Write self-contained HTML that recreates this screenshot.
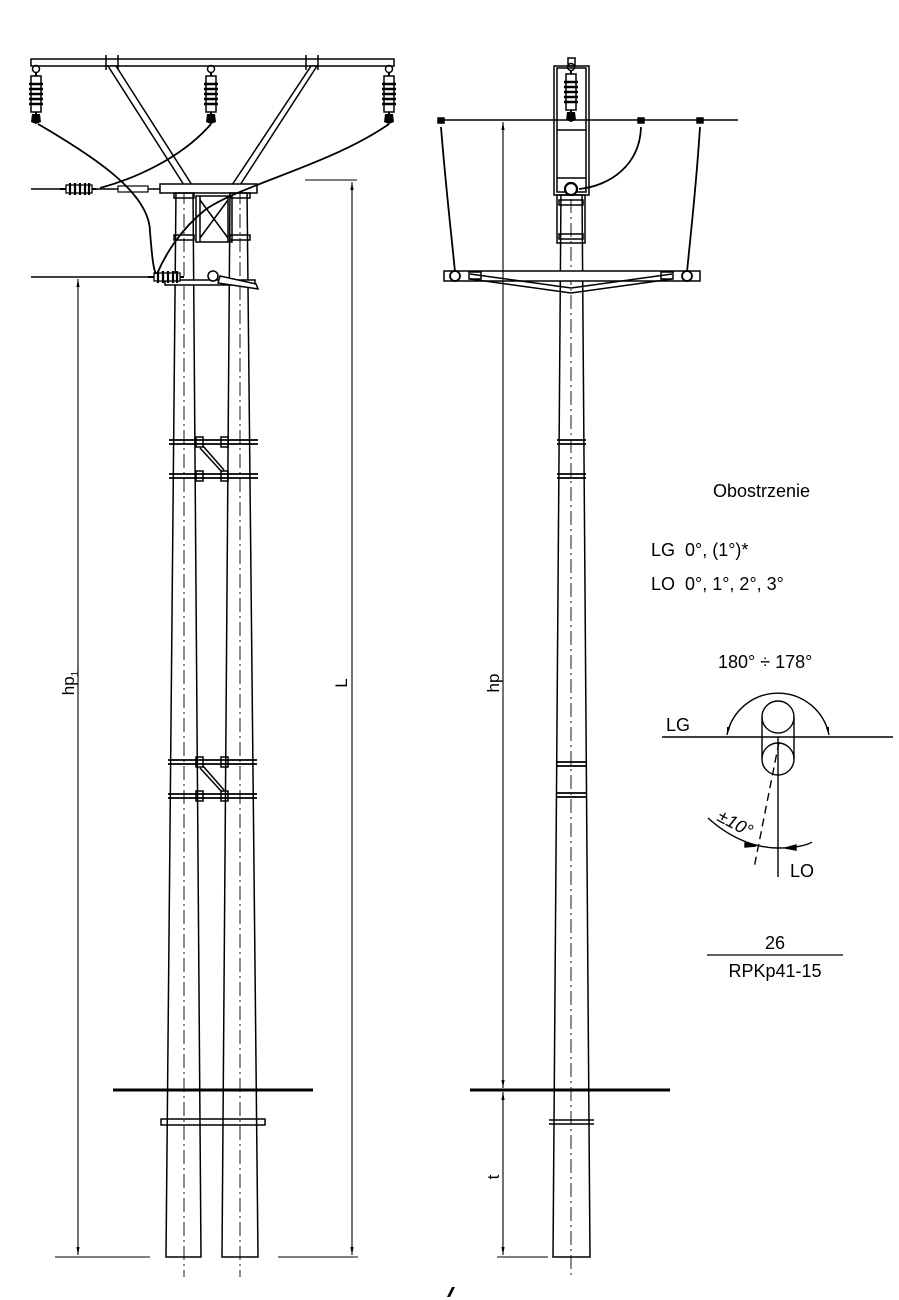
<!DOCTYPE html>
<html><head><meta charset="utf-8"><style>
html,body{margin:0;padding:0;background:#fff}
svg{display:block}
text{font-family:"Liberation Sans",Arial,sans-serif;fill:#000}
</style></head><body>
<svg width="899" height="1300" viewBox="0 0 899 1300" xmlns="http://www.w3.org/2000/svg">
<defs>
<marker id="ar" viewBox="0 0 10 10" refX="10" refY="5" markerWidth="8" markerHeight="10" orient="auto-start-reverse" markerUnits="userSpaceOnUse"><path d="M0,3 L10,5 L0,7 z" fill="#000"/></marker>
<g id="ins">
<circle cx="0" cy="3" r="3.5" fill="none" stroke="#000" stroke-width="1.5"/>
<line x1="0" y1="6" x2="0" y2="56" stroke="#000" stroke-width="2"/>
<rect x="-5" y="10" width="10" height="36" fill="#fff" stroke="#000" stroke-width="1.5"/>
<line x1="-7" y1="18" x2="7" y2="18" stroke="#000" stroke-width="2.5"/>
<line x1="-7" y1="23" x2="7" y2="23" stroke="#000" stroke-width="2.5"/>
<line x1="-7" y1="28" x2="7" y2="28" stroke="#000" stroke-width="2.5"/>
<line x1="-7" y1="33" x2="7" y2="33" stroke="#000" stroke-width="2.5"/>
<line x1="-7" y1="38" x2="7" y2="38" stroke="#000" stroke-width="2.5"/>
<path d="M-4,48 L4,48 L5,56 L0,58 L-5,56 z" fill="#000"/>
</g>
<g id="hins">
<line x1="0" y1="0" x2="36" y2="0" stroke="#000" stroke-width="2"/>
<rect x="6" y="-4" width="26" height="8" fill="#fff" stroke="#000" stroke-width="1.3"/>
<line x1="10" y1="-6" x2="10" y2="6" stroke="#000" stroke-width="2.2"/>
<line x1="15" y1="-6" x2="15" y2="6" stroke="#000" stroke-width="2.2"/>
<line x1="20" y1="-6" x2="20" y2="6" stroke="#000" stroke-width="2.2"/>
<line x1="25" y1="-6" x2="25" y2="6" stroke="#000" stroke-width="2.2"/>
<line x1="29" y1="-6" x2="29" y2="6" stroke="#000" stroke-width="2.2"/>
</g>
</defs>
<g stroke="#000" fill="none" stroke-width="1.5">
<polygon points="176,190 193,190 201,1257 166,1257"/>
<polygon points="230,190 247,190 258,1257 222,1257"/>
<line x1="184" y1="190" x2="184" y2="1277" stroke-dasharray="14,4,2,4" stroke-width="0.9"/>
<line x1="240" y1="190" x2="240" y2="1277" stroke-dasharray="14,4,2,4" stroke-width="0.9"/>
<rect x="31" y="59" width="363" height="7"/>
<line x1="106" y1="55" x2="106" y2="70"/><line x1="118" y1="55" x2="118" y2="70"/>
<line x1="306" y1="55" x2="306" y2="70"/><line x1="318" y1="55" x2="318" y2="70"/>
<polygon points="108,66 116,66 192,185 184,185" fill="#fff"/>
<polygon points="311,66 317,66 240,185 232,185" fill="#fff"/>
<rect x="160" y="184" width="97" height="9" fill="#fff"/>
<rect x="174" y="193" width="20" height="5"/><rect x="230" y="193" width="20" height="5"/>
<rect x="174" y="235" width="20" height="5"/><rect x="230" y="235" width="20" height="5"/>
<rect x="196" y="196" width="36" height="46"/>
<line x1="200" y1="196" x2="200" y2="242"/><line x1="228" y1="196" x2="228" y2="242"/>
<line x1="200" y1="200" x2="228" y2="238"/><line x1="228" y1="200" x2="200" y2="238"/>
<rect x="165" y="280" width="90" height="5" fill="#fff"/>
<path d="M218,283 L258,289 L256,284 L220,276 z" fill="#fff"/>
<circle cx="213" cy="276" r="5" fill="#fff"/>
<g stroke-width="1.8">
<line x1="169" y1="440" x2="258" y2="440"/><line x1="169" y1="444" x2="258" y2="444"/>
<line x1="169" y1="474" x2="258" y2="474"/><line x1="169" y1="478" x2="258" y2="478"/>
<line x1="168" y1="760" x2="257" y2="760"/><line x1="168" y1="764" x2="257" y2="764"/>
<line x1="168" y1="794" x2="257" y2="794"/><line x1="168" y1="798" x2="257" y2="798"/>
</g>
<rect x="196" y="437" width="7" height="10"/><rect x="221" y="437" width="7" height="10"/>
<rect x="196" y="471" width="7" height="10"/><rect x="221" y="471" width="7" height="10"/>
<line x1="200" y1="448" x2="222" y2="472"/><line x1="203" y1="446" x2="224" y2="470"/>
<rect x="196" y="757" width="7" height="10"/><rect x="221" y="757" width="7" height="10"/>
<rect x="196" y="791" width="7" height="10"/><rect x="221" y="791" width="7" height="10"/>
<line x1="200" y1="768" x2="222" y2="792"/><line x1="203" y1="766" x2="224" y2="790"/>
<rect x="161" y="1119" width="104" height="6"/>
</g>
<use href="#ins" x="36" y="66"/><use href="#ins" x="211" y="66"/><use href="#ins" x="389" y="66"/>
<g stroke="#000" fill="none">
<line x1="31" y1="189" x2="160" y2="189" stroke-width="1.5"/>
<use href="#hins" x="60" y="189"/>
<rect x="118" y="186" width="30" height="6" fill="#fff" stroke-width="1.2"/>
<line x1="31" y1="277" x2="160" y2="277" stroke-width="1.5"/>
<use href="#hins" x="148" y="277"/>
<path d="M38,124 C100,160 150,195 150,232 C152,255 153,268 156,274" stroke-width="1.8"/>
<path d="M211,124 C180,160 130,180 100,188" stroke-width="1.8"/>
<path d="M389,124 C330,165 240,185 205,210 C180,230 165,255 157,274" stroke-width="1.8"/>
</g>
<g stroke="#000" stroke-width="1.1" fill="none">
<line x1="78" y1="279" x2="78" y2="1255" marker-start="url(#ar)" marker-end="url(#ar)"/>
<line x1="352" y1="182" x2="352" y2="1255" marker-start="url(#ar)" marker-end="url(#ar)"/>
<line x1="305" y1="180" x2="357" y2="180"/>
<line x1="55" y1="1257" x2="150" y2="1257"/>
<line x1="278" y1="1257" x2="358" y2="1257"/>
<line x1="113" y1="1090" x2="313" y2="1090" stroke-width="3"/>
</g>
<text transform="translate(74,683) rotate(-90)" font-size="17" text-anchor="middle">hp<tspan font-size="10" dy="4">1</tspan></text>
<text transform="translate(347,683) rotate(-90)" font-size="17" text-anchor="middle">L</text>

<g stroke="#000" fill="none" stroke-width="1.5">
<polygon points="561,190 582,190 590,1257 553,1257"/>
<line x1="571" y1="175" x2="571" y2="1277" stroke-dasharray="14,4,2,4" stroke-width="0.9"/>
<rect x="554" y="66" width="35" height="129" fill="#fff"/>
<rect x="557" y="68" width="29" height="124"/>
<rect x="568" y="58" width="7" height="8"/>
<line x1="557" y1="130" x2="586" y2="130"/>
<line x1="557" y1="178" x2="586" y2="178"/>
<rect x="557" y="195" width="28" height="48"/>
<rect x="559" y="200" width="24" height="5"/><rect x="559" y="234" width="24" height="5"/>
<circle cx="571" cy="189" r="6" stroke-width="2.2" fill="#fff"/>
<line x1="438" y1="120" x2="738" y2="120" stroke-width="1.6"/>
<path d="M641,127 C640,165 610,186 579,189" stroke-width="1.8"/>
<path d="M441,127 C446,190 452,240 455,272" stroke-width="1.8"/>
<path d="M700,127 C696,190 690,240 687,272" stroke-width="1.8"/>
<rect x="438" y="118" width="6" height="5" fill="#000"/>
<rect x="638" y="118" width="6" height="5" fill="#000"/>
<rect x="697" y="118" width="6" height="5" fill="#000"/>
<rect x="444" y="271" width="256" height="10" fill="#fff"/>
<path d="M470,274 L571,288 L672,274"/>
<path d="M470,279 L571,293 L672,279"/>
<circle cx="455" cy="276" r="5" stroke-width="1.8"/><circle cx="687" cy="276" r="5" stroke-width="1.8"/>
<rect x="469" y="272" width="12" height="7"/><rect x="661" y="272" width="12" height="7"/>
<g stroke-width="1.8">
<line x1="557" y1="440" x2="586" y2="440"/><line x1="557" y1="444" x2="586" y2="444"/>
<line x1="557" y1="474" x2="586" y2="474"/><line x1="557" y1="478" x2="586" y2="478"/>
<line x1="556" y1="762" x2="587" y2="762"/><line x1="556" y1="766" x2="587" y2="766"/>
<line x1="556" y1="793" x2="587" y2="793"/><line x1="556" y1="797" x2="587" y2="797"/>
</g>
<line x1="549" y1="1120" x2="594" y2="1120"/><line x1="549" y1="1124" x2="594" y2="1124"/>
</g>
<use href="#ins" x="571" y="64"/>
<g stroke="#000" stroke-width="1.1" fill="none">
<line x1="503" y1="122" x2="503" y2="1088" marker-start="url(#ar)" marker-end="url(#ar)"/>
<line x1="503" y1="1092" x2="503" y2="1255" marker-start="url(#ar)" marker-end="url(#ar)"/>
<line x1="497" y1="1257" x2="548" y2="1257"/>
<line x1="470" y1="1090" x2="670" y2="1090" stroke-width="3"/>
</g>
<text transform="translate(499,683) rotate(-90)" font-size="17" text-anchor="middle">hp</text>
<text transform="translate(499,1177) rotate(-90)" font-size="17" text-anchor="middle">t</text>

<text x="713" y="497" font-size="18">Obostrzenie</text>
<text x="651" y="556" font-size="18" xml:space="preserve">LG  0°, (1°)*</text>
<text x="651" y="590" font-size="18" xml:space="preserve">LO  0°, 1°, 2°, 3°</text>
<text x="718" y="668" font-size="18">180° ÷ 178°</text>
<text x="666" y="731" font-size="18">LG</text>
<text x="790" y="877" font-size="18">LO</text>
<g stroke="#000" fill="none" stroke-width="1.4">
<line x1="662" y1="737" x2="893" y2="737" stroke-width="1.6"/>
<circle cx="778" cy="717" r="16"/>
<circle cx="778" cy="759" r="16"/>
<line x1="762" y1="717" x2="762" y2="759"/><line x1="794" y1="717" x2="794" y2="759"/>
<line x1="778" y1="737" x2="778" y2="877"/>
<line x1="779" y1="742" x2="754" y2="868" stroke-dasharray="8,5"/>
<path d="M727,735 A52,52 0 0 1 829,735" marker-start="url(#ar)" marker-end="url(#ar)"/>
<path d="M708,818 C730,838 755,848 778,848 C795,848 808,845 812,842"/>
<path d="M745,843 L756,846 L745,847 z" fill="#000"/>
<path d="M796,845 L785,848 L796,850 z" fill="#000"/>
<line x1="707" y1="955" x2="843" y2="955" stroke-width="1.2"/>
</g>
<text transform="translate(716,820) rotate(28)" font-size="18" font-style="italic">±10°</text>
<text x="775" y="949" font-size="18" text-anchor="middle">26</text>
<text x="775" y="977" font-size="18" text-anchor="middle">RPKp41-15</text>
<path d="M447,1297 L452,1287 L455,1287 L450,1297 z" fill="#000"/>
</svg>
</body></html>
